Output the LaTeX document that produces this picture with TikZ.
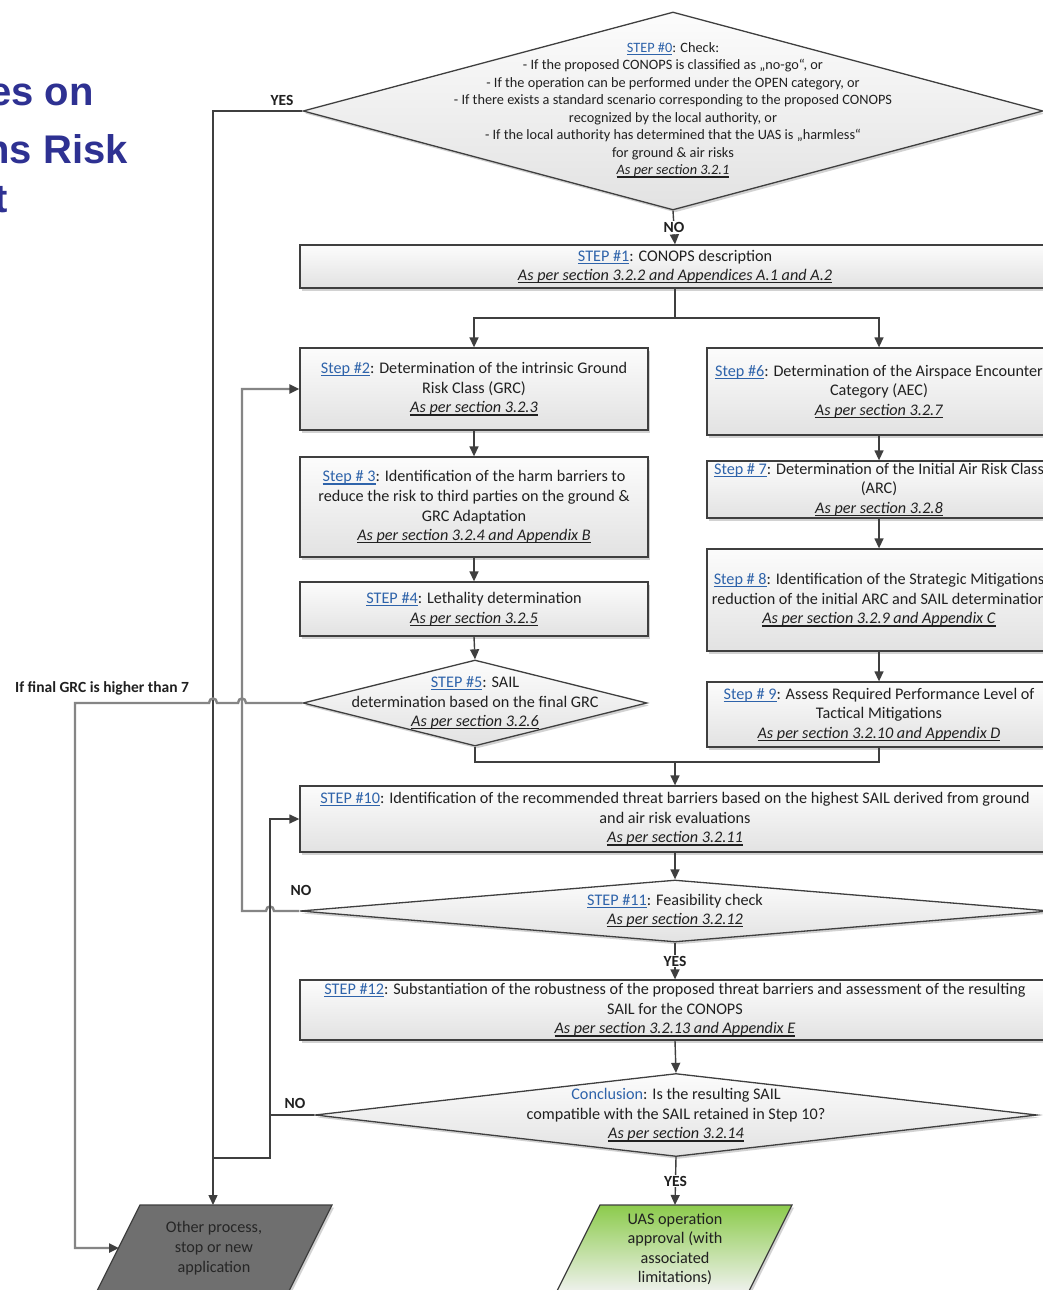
\documentclass[tikz,border=0pt]{standalone}
\usepackage{fontspec}
\setmainfont{Carlito}
\newfontfamily\titlefont{Liberation Sans}
\usetikzlibrary{arrows.meta,shapes.geometric,shadows}
\definecolor{lineC}{HTML}{3F3F3F}
\definecolor{loopC}{HTML}{858585}
\definecolor{linkC}{HTML}{2E63AA}
\definecolor{txtC}{HTML}{202020}
\definecolor{titleC}{HTML}{2E3192}
\definecolor{boxTop}{HTML}{FCFCFC}
\definecolor{boxBot}{HTML}{E2E2E2}
\definecolor{grayFill}{HTML}{6F6F6F}
\definecolor{greenTop}{HTML}{8CCB4C}
\definecolor{greenBot}{HTML}{EEF1EC}
\newcommand\ulx[1]{\setbox0\hbox{#1}\leavevmode\rlap{\raisebox{-2.6pt}{\rule{\wd0}{1.1pt}}}\box0}
\newcommand\lnk[1]{\textcolor{linkC}{\ulx{#1}}}
\newcommand\aps[1]{\ulx{\textit{#1}}}
\tikzset{
  stepbox/.style={draw=lineC, line width=1.3pt, top color=boxTop, bottom color=boxBot,
    drop shadow={opacity=0.35, shadow xshift=2pt, shadow yshift=-2.5pt}, inner sep=0pt},
  decis/.style={stepbox, diamond},
  txt/.style={text=txtC, align=center, font=\fontsize{16.2}{19.6}\selectfont, inner sep=0pt},
  conn/.style={draw=lineC, line width=1.4pt, -{Triangle[length=10pt,width=9pt]}},
  plain/.style={draw=lineC, line width=1.4pt},
  loopln/.style={draw=loopC, line width=2.4pt, -{Triangle[length=10pt,width=9pt,color=lineC]}},
  lbl/.style={font=\bfseries\fontsize{15.5}{16}\selectfont, text=txtC, inner sep=1pt},
  ttl/.style={font=\titlefont\bfseries\fontsize{40}{48}\selectfont, text=titleC, inner sep=0pt, anchor=base east}
}
\begin{document}
\begin{tikzpicture}[x=1pt,y=-1pt]
\useasboundingbox (0,0) rectangle (1043,1290);
\clip (0,0) rectangle (1043,1290);
\fill[white] (0,0) rectangle (1043,1290);

% title fragments
\node[ttl] (ti1) at (94,105) {es on};
\node[ttl] (ti2) at (128,163) {ns Risk};
\node[ttl] (ti3) at (8,212) {t};

% STEP 0
\node[decis, minimum width=740pt, minimum height=198pt] (d0) at (673,111) {};
\node[txt, font=\fontsize{14.3}{17.5}\selectfont] (t0) at (673,110) {\lnk{STEP \#0}: Check:\\
- If the proposed CONOPS is classified as „no-go“, or\\
- If the operation can be performed under the OPEN category, or\\
- If there exists a standard scenario corresponding to the proposed CONOPS\\
recognized by the local authority, or\\
- If the local authority has determined that the UAS is „harmless“\\
for ground \& air risks\\
\aps{As per section 3.2.1}};

% STEP 1
\node[stepbox, txt, minimum width=750pt, minimum height=43pt, font=\fontsize{16.2}{19}\selectfont] (s1) at (675,266.5)
  {\lnk{STEP \#1}: CONOPS description\\ \aps{As per section 3.2.2 and Appendices A.1 and A.2}};

% left column
\node[stepbox, txt, minimum width=348pt, minimum height=82pt] (s2) at (474,389)
  {\lnk{Step \#2}: Determination of the intrinsic Ground\\ Risk Class (GRC)\\ \aps{As per section 3.2.3}};
\node[stepbox, txt, minimum width=348pt, minimum height=100pt] (s3) at (474,507)
  {\lnk{Step \# 3}: Identification of the harm barriers to\\ reduce the risk to third parties on the ground \&\\ GRC Adaptation\\ \aps{As per section 3.2.4 and Appendix B}};
\node[stepbox, txt, minimum width=348pt, minimum height=54pt] (s4) at (474,609)
  {\lnk{STEP \#4}: Lethality determination\\ \aps{As per section 3.2.5}};
\node[decis, minimum width=344pt, minimum height=86pt] (d5) at (475,703) {};
\node[txt] (t5) at (475,703) {\lnk{STEP \#5}: SAIL\\ determination based on the final GRC\\ \aps{As per section 3.2.6}};

% right column
\node[stepbox, txt, minimum width=344pt, minimum height=87pt] (s6) at (879,391.5)
  {\lnk{Step \#6}: Determination of the Airspace Encounter\\ Category (AEC)\\ \aps{As per section 3.2.7}};
\node[stepbox, txt, minimum width=344pt, minimum height=57pt] (s7) at (879,489.5)
  {\lnk{Step \# 7}: Determination of the Initial Air Risk Class\\ (ARC)\\ \aps{As per section 3.2.8}};
\node[stepbox, txt, minimum width=344pt, minimum height=102pt] (s8) at (879,600)
  {\lnk{Step \# 8}: Identification of the Strategic Mitigations\\ reduction of the initial ARC and SAIL determination\\ \aps{As per section 3.2.9 and Appendix C}};
\node[stepbox, txt, minimum width=344pt, minimum height=65pt] (s9) at (879,714.5)
  {\lnk{Step \# 9}: Assess Required Performance Level of\\ Tactical Mitigations\\ \aps{As per section 3.2.10 and Appendix D}};

% STEP 10 - 12
\node[stepbox, txt, minimum width=750pt, minimum height=66pt] (s10) at (675,819)
  {\lnk{STEP \#10}: Identification of the recommended threat barriers based on the highest SAIL derived from ground\\ and air risk evaluations\\ \aps{As per section 3.2.11}};
\node[decis, minimum width=750pt, minimum height=62pt] (d11) at (675,911) {};
\node[txt] (t11) at (675,910.5) {\lnk{STEP \#11}: Feasibility check\\ \aps{As per section 3.2.12}};
\node[stepbox, txt, minimum width=750pt, minimum height=60pt] (s12) at (675,1010)
  {\lnk{STEP \#12}: Substantiation of the robustness of the proposed threat barriers and assessment of the resulting\\ SAIL for the CONOPS\\ \aps{As per section 3.2.13 and Appendix E}};
\node[decis, minimum width=722pt, minimum height=83pt] (dc) at (676,1115) {};
\node[txt] (tc) at (676,1115) {\textcolor{linkC}{Conclusion}: Is the resulting SAIL\\ compatible with the SAIL retained in Step 10?\\ \aps{As per section 3.2.14}};

% end shapes
\path[draw=lineC, line width=1.2pt, fill=grayFill, drop shadow={opacity=0.35, shadow xshift=2pt, shadow yshift=-2.5pt}]
  (140,1205) -- (332,1205) -- (289,1291) -- (97,1291) -- cycle;
\node[txt, font=\fontsize{16.2}{20}\selectfont, text=black!85] (oth) at (214,1248) {Other process,\\ stop or new\\ application};
\path[draw=lineC, line width=1.2pt, top color=greenTop, bottom color=greenBot, drop shadow={opacity=0.35, shadow xshift=2pt, shadow yshift=-2.5pt}]
  (600,1205) -- (792,1205) -- (749,1291) -- (557,1291) -- cycle;
\node[txt, font=\fontsize{16.2}{19.3}\selectfont] (uas) at (675,1249) {UAS operation\\ approval (with\\ associated\\ limitations)};
\coordinate (gtop) at (213,1205);
\coordinate (gleft) at (119,1248);
\coordinate (uastop) at (675,1205);

% main connectors
\draw[conn] (d0.south) -- node[lbl, fill=white] {NO} (s1.north);
\coordinate (j1) at (675,318);
\draw[plain] (s1.south) -- (j1);
\draw[conn] (j1) -| (s2.north);
\draw[conn] (j1) -| (s6.north);
\draw[conn] (s2) -- (s3);
\draw[conn] (s3) -- (s4);
\draw[conn] (s4.south) -- (d5.north);
\draw[conn] (s6) -- (s7);
\draw[conn] (s7) -- (s8);
\draw[conn] (s8) -- (s9);
\coordinate (m1) at (475,762);
\coordinate (m2) at (879,762);
\coordinate (m0) at (675,762);
\draw[plain] (d5.south) -- (m1) -- (m2) -- (s9.south);
\draw[conn] (m0) -- (s10.north);
\draw[conn] (s10.south) -- (d11.north);
\draw[conn] (d11.south) -- node[lbl, fill=white] {YES} (s12.north);
\draw[conn] (s12.south) -- (dc.north);
\draw[conn] (dc.south) -- node[lbl, fill=white] {YES} (uastop);

% side loops
\draw[conn] (d0.west) -| (gtop);
\node[lbl] (yes0) at (282,100) {YES};

\draw[loopln] (d5.west) -- (246,703) .. controls (246,697) and (238,697) .. (238,703)
  -- (217,703) .. controls (217,697) and (209,697) .. (209,703) -- (75,703) |- (gleft);
\node[lbl, anchor=west] (grc) at (14,688) {If final GRC is higher than 7};

\draw[loopln] (d11.west) -- (274,911) .. controls (274,905) and (266,905) .. (266,911)
  -- (242,911) |- (s2.west);
\node[lbl] (no11) at (301,890) {NO};

\coordinate (cj) at (270,1115);
\draw[conn] (dc.west) -- (cj) |- (s10.west);
\draw[plain] (cj) -- (270,1158) -- (213,1158);
\node[lbl] (noc) at (295,1103) {NO};
\end{tikzpicture}
\end{document}
